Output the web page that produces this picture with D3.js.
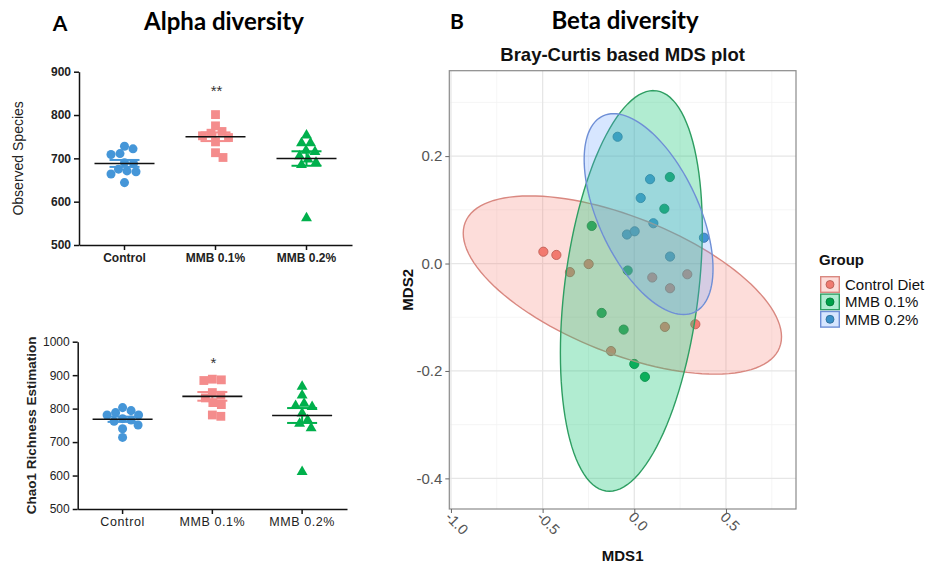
<!DOCTYPE html>
<html>
<head>
<meta charset="utf-8">
<script src="https://cdn.jsdelivr.net/npm/d3@7"></script>
<style>
  body { margin: 0; background: #fff; }
  svg text { font-family: "Liberation Sans", Arial, sans-serif; }
  .title { font-family: Lato, "Open Sans", sans-serif !important; font-weight: bold; }
</style>
</head>
<body>
<svg id="fig" width="929" height="567"></svg>
<script>
// (DATA) groups and alpha diversity values
var groups = ["Control", "MMB 0.1%", "MMB 0.2%"];

var observedControl = [728, 722, 711, 709, 690, 688, 675, 671, 669, 664, 644];
var observedMmb01   = [801, 775, 762, 758, 752, 748, 738, 713, 702];
var observedMmb02   = [753, 735, 735, 718, 715, 705, 698, 690, 685, 562];

var chaoControl = [803, 794, 788, 781, 781, 770, 766, 762, 751, 740, 714];
var chaoMmb01   = [888, 886, 884, 848, 840, 832, 818, 812, 781, 777];
var chaoMmb02   = [866, 840, 815, 808, 805, 786, 766, 755, 742, 611];

var observedTicks = [500, 600, 700, 800, 900];
var chaoTicks = [500, 600, 700, 800, 900, 1000];
var observedStars = ["", "**", ""];
var chaoStars = ["", "*", ""];

// (DATA) beta diversity MDS coordinates per group
var betaGroups = ["Control Diet", "MMB 0.1%", "MMB 0.2%"];
var controlMds1 = [-0.496, -0.425, -0.249, -0.351, 0.098, 0.289, 0.195, 0.167, 0.333, -0.127];
var controlMds2 = [0.022, 0.016, -0.001, -0.016, -0.026, -0.020, -0.046, -0.118, -0.113, -0.163];
var mmb01Mds1 = [0.194, 0.164, -0.232, -0.036, -0.178, -0.058, 0.000, 0.058];
var mmb01Mds2 = [0.161, 0.102, 0.070, -0.013, -0.092, -0.123, -0.187, -0.211];
var mmb02Mds1 = [-0.091, 0.086, 0.035, 0.104, -0.040, 0.002, 0.380, 0.195];
var mmb02Mds2 = [0.236, 0.157, 0.122, 0.075, 0.054, 0.060, 0.048, 0.013];

// ellipse centre and two conjugate semi-diameters (data units)
var ellipseCenter = [[-0.065, -0.040], [-0.016, -0.051], [0.078, 0.092]];
var ellipseAxisA  = [[-0.868, 0.0965], [0.120, 0.373], [-0.191, 0.187]];
var ellipseAxisB  = [[0, 0.135], [0.368, 0], [0.295, 0]];

var mds1Ticks = [-1.0, -0.5, 0.0, 0.5];
var mds2Ticks = [-0.4, -0.2, 0.0, 0.2];

// colours
var alphaColors = ["#4596d8", "#f48c8c", "#00b04c"];
var alphaShapes = [d3.symbolCircle, d3.symbolSquare, d3.symbolTriangle];
var alphaSizes = [64, 78, 52];
var pointColors = ["#f07a70", "#00a04a", "#3a90c8"];
var ellipseFill = ["#f8766d", "#1fc87a", "#619cff"];
var ellipseStroke = ["#d98880", "#2e9e62", "#6f8fd6"];

var svg = d3.select("#fig");

// titles
svg.append("text").attr("class", "title").attr("x", 60).attr("y", 31)
  .attr("text-anchor", "middle").attr("font-size", 21).text("A");
svg.append("text").attr("class", "title").attr("x", 224).attr("y", 30)
  .attr("text-anchor", "middle").attr("font-size", 24).text("Alpha diversity");
svg.append("text").attr("class", "title").attr("x", 457).attr("y", 29)
  .attr("text-anchor", "middle").attr("font-size", 21).text("B");
svg.append("text").attr("class", "title").attr("x", 625).attr("y", 29)
  .attr("text-anchor", "middle").attr("font-size", 24).text("Beta diversity");

// simple beeswarm: keep points from overlapping by shifting them sideways
function swarm(values, y, cx, d) {
  var order = d3.range(values.length).sort(function(a, b) { return d3.descending(values[a], values[b]); });
  var placed = [];
  var xs = [];
  order.forEach(function(i) {
    var py = y(values[i]);
    for (var k = 0; k < 200; k++) {
      var off = (k % 2 ? 1 : -1) * Math.ceil(k / 2) * 0.5;
      var ok = placed.every(function(p) {
        var dx = p[0] - (cx + off), dy = p[1] - py;
        return dx * dx + dy * dy >= d * d;
      });
      if (ok) { xs[i] = cx + off; placed.push([cx + off, py]); break; }
    }
  });
  return xs;
}

// function to draw one GraphPad style scatter panel
function drawAlpha(series, ticks, yRange, xRange, label, stars, starGap, bold) {
  var xScale = d3.scaleBand().domain(groups).range(xRange);
  var yScale = d3.scaleLinear().domain([ticks[0], ticks[ticks.length - 1]]).range(yRange);
  var g = svg.append("g");

  series.forEach(function(vals, gi) {
    var cx = xScale(groups[gi]) + xScale.bandwidth() / 2;
    var xs = swarm(vals, yScale, cx, 8.6);
    g.selectAll(null).data(vals).enter().append("path")
      .attr("d", d3.symbol().type(alphaShapes[gi]).size(alphaSizes[gi]))
      .attr("transform", function(d, i) { return "translate(" + xs[i] + "," + yScale(d) + ")"; })
      .attr("fill", alphaColors[gi]);

    // mean and SEM
    var m = d3.mean(vals);
    var sem = d3.deviation(vals) / Math.sqrt(vals.length);
    var c = alphaColors[gi];
    g.append("line").attr("x1", cx).attr("x2", cx).attr("y1", yScale(m - sem)).attr("y2", yScale(m + sem))
      .attr("stroke", c).attr("stroke-width", 2);
    [m - sem, m + sem].forEach(function(v) {
      g.append("line").attr("x1", cx - 15).attr("x2", cx + 15).attr("y1", yScale(v)).attr("y2", yScale(v))
        .attr("stroke", c).attr("stroke-width", 2);
    });
    g.append("line").attr("x1", cx - 30).attr("x2", cx + 30).attr("y1", yScale(m)).attr("y2", yScale(m))
      .attr("stroke", "#111").attr("stroke-width", 1.6);

    if (stars[gi]) {
      g.append("text").attr("x", cx + 1).attr("y", yScale(d3.max(vals)) - starGap)
        .attr("text-anchor", "middle").attr("font-size", 15).attr("fill", "#333").text(stars[gi]);
    }
  });

  var yAxis = d3.axisLeft(yScale).tickValues(ticks).tickSize(5).tickSizeOuter(0).tickFormat(d3.format("d"));
  var ya = g.append("g").attr("transform", "translate(" + xRange[0] + ",0)").call(yAxis);
  var xAxis = d3.axisBottom(xScale).tickSize(5).tickSizeOuter(0);
  var xa = g.append("g").attr("transform", "translate(0," + yRange[0] + ")").call(xAxis);
  [ya, xa].forEach(function(a) {
    a.selectAll("path, line").attr("stroke", "#111").attr("stroke-width", 1.5);
    a.selectAll("text").attr("fill", "#222").attr("font-size", 12)
      .attr("font-weight", bold ? "bold" : "normal");
  });
  if (!bold) xa.selectAll("text").attr("letter-spacing", 0.6).attr("font-size", 12.5);

  var midY = (yRange[0] + yRange[1]) / 2;
  g.append("text")
    .attr("transform", "translate(" + label.x + "," + midY + ") rotate(-90)")
    .attr("text-anchor", "middle").attr("font-size", label.size)
    .attr("font-weight", label.weight).attr("fill", "#222").text(label.text);
}

drawAlpha([observedControl, observedMmb01, observedMmb02], observedTicks, [245, 71.7], [79, 352],
  { text: "Observed Species", x: 23, size: 14, weight: "normal" }, observedStars, 19, true);
drawAlpha([chaoControl, chaoMmb01, chaoMmb02], chaoTicks, [509, 341.7], [77.7, 347],
  { text: "Chao1 Richness Estimation", x: 36, size: 13.5, weight: "bold" }, chaoStars, 11, false);

// (BETA DIVERSITY) MDS plot
var panel = { left: 449.3, right: 796, top: 70.7, bottom: 509 };
var xMds = d3.scaleLinear().domain([-1.009, 0.882]).range([panel.left, panel.right]);
var yMds = d3.scaleLinear().domain([-0.457, 0.359]).range([panel.bottom, panel.top]);
var b = svg.append("g");

b.append("text").attr("x", (panel.left + panel.right) / 2).attr("y", 61)
  .attr("text-anchor", "middle").attr("font-size", 18.5).attr("font-weight", "bold")
  .attr("fill", "#111").text("Bray-Curtis based MDS plot");

b.append("rect").attr("x", panel.left).attr("y", panel.top)
  .attr("width", panel.right - panel.left).attr("height", panel.bottom - panel.top).attr("fill", "#fff");

// grid lines (minor then major)
var xMinor = mds1Ticks.map(function(t) { return t + 0.25; }).filter(function(t) { return t < 0.882; });
var yMinor = [-0.3, -0.1, 0.1, 0.3];
b.selectAll(null).data(xMinor).enter().append("line")
  .attr("x1", xMds).attr("x2", xMds).attr("y1", panel.top).attr("y2", panel.bottom)
  .attr("stroke", "#f2f2f2").attr("stroke-width", 0.8);
b.selectAll(null).data(yMinor).enter().append("line")
  .attr("y1", yMds).attr("y2", yMds).attr("x1", panel.left).attr("x2", panel.right)
  .attr("stroke", "#f2f2f2").attr("stroke-width", 0.8);
b.selectAll(null).data(mds1Ticks).enter().append("line")
  .attr("x1", xMds).attr("x2", xMds).attr("y1", panel.top).attr("y2", panel.bottom)
  .attr("stroke", "#e6e6e6").attr("stroke-width", 1.3);
b.selectAll(null).data(mds2Ticks).enter().append("line")
  .attr("y1", yMds).attr("y2", yMds).attr("x1", panel.left).attr("x2", panel.right)
  .attr("stroke", "#e6e6e6").attr("stroke-width", 1.3);

// points (drawn first so the translucent ellipses tint them)
var mdsSeries = [[controlMds1, controlMds2], [mmb01Mds1, mmb01Mds2], [mmb02Mds1, mmb02Mds2]];
mdsSeries.forEach(function(s, gi) {
  b.selectAll(null).data(s[0]).enter().append("circle")
    .attr("cx", function(d) { return xMds(d); })
    .attr("cy", function(d, i) { return yMds(s[1][i]); })
    .attr("r", 4.6)
    .attr("fill", pointColors[gi])
    .attr("stroke", d3.color(pointColors[gi]).darker(0.9))
    .attr("stroke-width", 0.9);
});

// ellipses
var angles = d3.range(0, 360, 3);
var ellipseLine = d3.line().curve(d3.curveLinearClosed)
  .x(function(p) { return xMds(p[0]); }).y(function(p) { return yMds(p[1]); });
ellipseCenter.forEach(function(c, gi) {
  var a = ellipseAxisA[gi], e = ellipseAxisB[gi];
  var pts = angles.map(function(deg) {
    var t = deg * Math.PI / 180;
    return [c[0] + Math.cos(t) * a[0] + Math.sin(t) * e[0], c[1] + Math.cos(t) * a[1] + Math.sin(t) * e[1]];
  });
  b.append("path").attr("d", ellipseLine(pts))
    .attr("fill", ellipseFill[gi]).attr("fill-opacity", gi === 1 ? 0.35 : 0.25)
    .attr("stroke", ellipseStroke[gi]).attr("stroke-width", 1.4);
});

b.append("rect").attr("x", panel.left).attr("y", panel.top)
  .attr("width", panel.right - panel.left).attr("height", panel.bottom - panel.top)
  .attr("fill", "none").attr("stroke", "#8a8a8a").attr("stroke-width", 1.2);

// axes
var yA = b.append("g").attr("transform", "translate(" + panel.left + ",0)")
  .call(d3.axisLeft(yMds).tickValues(mds2Ticks).tickSize(4).tickSizeOuter(0)
    .tickFormat(function(d) { return d.toFixed(1); }));
yA.select(".domain").remove();
yA.selectAll("line").attr("stroke", "#666");
yA.selectAll("text").attr("font-size", 15).attr("fill", "#555");

var xA = b.append("g").attr("transform", "translate(0," + panel.bottom + ")")
  .call(d3.axisBottom(xMds).tickValues(mds1Ticks).tickSize(4).tickSizeOuter(0)
    .tickFormat(function(d) { return d.toFixed(1); }));
xA.select(".domain").remove();
xA.selectAll("line").attr("stroke", "#666");
xA.selectAll("text").attr("font-size", 14.5).attr("fill", "#555")
  .attr("text-anchor", "start").attr("dy", null).attr("y", 0)
  .attr("transform", "translate(-7,9) rotate(45)");

b.append("text").attr("x", (panel.left + panel.right) / 2).attr("y", 561)
  .attr("text-anchor", "middle").attr("font-size", 15).attr("font-weight", "bold")
  .attr("fill", "#111").text("MDS1");
b.append("text").attr("transform", "translate(413," + ((panel.top + panel.bottom) / 2) + ") rotate(-90)")
  .attr("text-anchor", "middle").attr("font-size", 15).attr("font-weight", "bold")
  .attr("fill", "#111").text("MDS2");

// legend
var legend = b.append("g").attr("transform", "translate(820,262)");
legend.append("text").attr("x", -1).attr("y", 3).attr("font-size", 15).attr("font-weight", "bold")
  .attr("fill", "#111").text("Group");
betaGroups.forEach(function(name, gi) {
  var row = legend.append("g").attr("transform", "translate(0," + (14 + gi * 17.4) + ")");
  row.append("rect").attr("x", 0).attr("y", 0).attr("width", 20).attr("height", 17)
    .attr("fill", "#fff");
  row.append("rect").attr("x", 0.7).attr("y", 0.7).attr("width", 18.6).attr("height", 15.6)
    .attr("fill", ellipseFill[gi]).attr("fill-opacity", gi === 1 ? 0.35 : 0.25)
    .attr("stroke", ellipseStroke[gi]).attr("stroke-width", 1.4);
  row.append("circle").attr("cx", 10).attr("cy", 8.5).attr("r", 4)
    .attr("fill", pointColors[gi]).attr("stroke", d3.color(pointColors[gi]).darker(0.9)).attr("stroke-width", 0.8);
  row.append("text").attr("x", 25).attr("y", 14).attr("font-size", 15).attr("fill", "#111").text(name);
});
</script>
</body>
</html>
